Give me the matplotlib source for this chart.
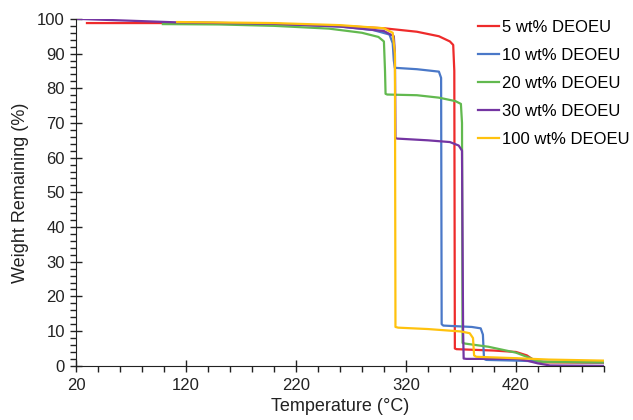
import matplotlib
matplotlib.use('Agg')
import matplotlib.pyplot as plt
from matplotlib.ticker import MultipleLocator, FixedLocator

plt.rcParams['font.family'] = ['Liberation Sans', 'DejaVu Sans']

# TGA curves (temperature in °C, weight remaining in %)
red_t = [30, 120, 200, 260, 300, 330, 350, 360, 363, 364, 364.5, 366, 400, 420, 430, 437, 445, 500]
red_w = [98.8, 98.8, 98.5, 98.0, 97.3, 96.3, 95.0, 93.5, 92.5, 85, 5.0, 4.8, 4.4, 4.0, 3.0, 1.5, 1.0, 0.9]

blue_t = [112, 200, 260, 290, 305, 308, 309, 310, 330, 350, 352, 352.5, 354, 380, 388, 390, 391, 393, 420, 450, 500]
blue_w = [99.0, 98.6, 97.8, 96.8, 95.5, 93, 88, 85.9, 85.5, 84.8, 83, 12, 11.6, 11.2, 10.8, 9, 2, 1.7, 1.5, 1.2, 1.0]

green_t = [99, 150, 200, 250, 280, 295, 300, 301, 301.5, 303, 330, 350, 365, 370, 371, 371.5, 374, 395, 420, 430, 438, 445, 500]
green_w = [98.5, 98.4, 98.0, 97.2, 96.0, 94.8, 93.5, 85, 78.4, 78.2, 78.0, 77.3, 76.3, 75.5, 70, 6.6, 6.4, 5.5, 3.8, 2.6, 1.6, 1.1, 1.0]

purple_t = [22, 112, 200, 260, 300, 309, 310, 310.5, 312, 340, 360, 368, 371, 372, 372.5, 375, 421, 430, 440, 451, 500]
purple_w = [100, 99.0, 98.6, 97.8, 96.5, 95.0, 90, 65.7, 65.5, 65.0, 64.5, 63.5, 62, 10, 2.1, 2.0, 2.0, 1.5, 0.7, 0.1, 0.0]

yellow_t = [112, 200, 260, 300, 308, 310, 310.5, 313, 340, 370, 378, 381, 382, 384, 420, 450, 500]
yellow_w = [99.1, 98.8, 98.2, 97.3, 96.0, 90, 11.2, 11.0, 10.6, 9.9, 9.4, 8.0, 3.0, 2.6, 2.2, 1.8, 1.5]

labels = ['5 wt% DEOEU', '10 wt% DEOEU', '20 wt% DEOEU', '30 wt% DEOEU', '100 wt% DEOEU']
colors = ['#ee2b2b', '#4a78c8', '#62b94f', '#7435a2', '#ffc20e']

x_major = [20, 120, 220, 320, 420]

fig = plt.figure(figsize=(6.33, 4.2), dpi=100)
ax = fig.add_axes([0.120, 0.129, 0.834, 0.826])

series = [(red_t, red_w), (blue_t, blue_w), (green_t, green_w),
          (purple_t, purple_w), (yellow_t, yellow_w)]
for (t, w), lab, c in zip(series, labels, colors):
    ax.plot(t, w, color=c, lw=1.6, label=lab, solid_joinstyle='round')

ax.set_xlim(20, 500)
ax.set_ylim(0, 100)
ax.xaxis.set_major_locator(FixedLocator(x_major))
ax.xaxis.set_minor_locator(MultipleLocator(20))
ax.yaxis.set_major_locator(MultipleLocator(10))
ax.yaxis.set_minor_locator(MultipleLocator(2))
ax.tick_params(which='major', direction='inout', length=9, width=1, labelsize=12, colors='#222222')
ax.tick_params(which='minor', direction='out', length=4, width=1, colors='#222222')
ax.tick_params(axis='x', pad=4)

for s in ['top', 'right']:
    ax.spines[s].set_visible(False)
for s in ['left', 'bottom']:
    ax.spines[s].set_color('#222222')

ax.set_xlabel('Temperature (°C)', fontsize=13, color='#222222', labelpad=4)
ax.set_ylabel('Weight Remaining (%)', fontsize=13, color='#222222', labelpad=6)

ax.legend(loc='upper left', bbox_to_anchor=(0.745, 0.968), bbox_transform=fig.transFigure,
          frameon=False, fontsize=12, handlelength=1.25, handletextpad=0.15,
          labelspacing=0.78, borderaxespad=0)

fig.savefig('out.png', dpi=100)
